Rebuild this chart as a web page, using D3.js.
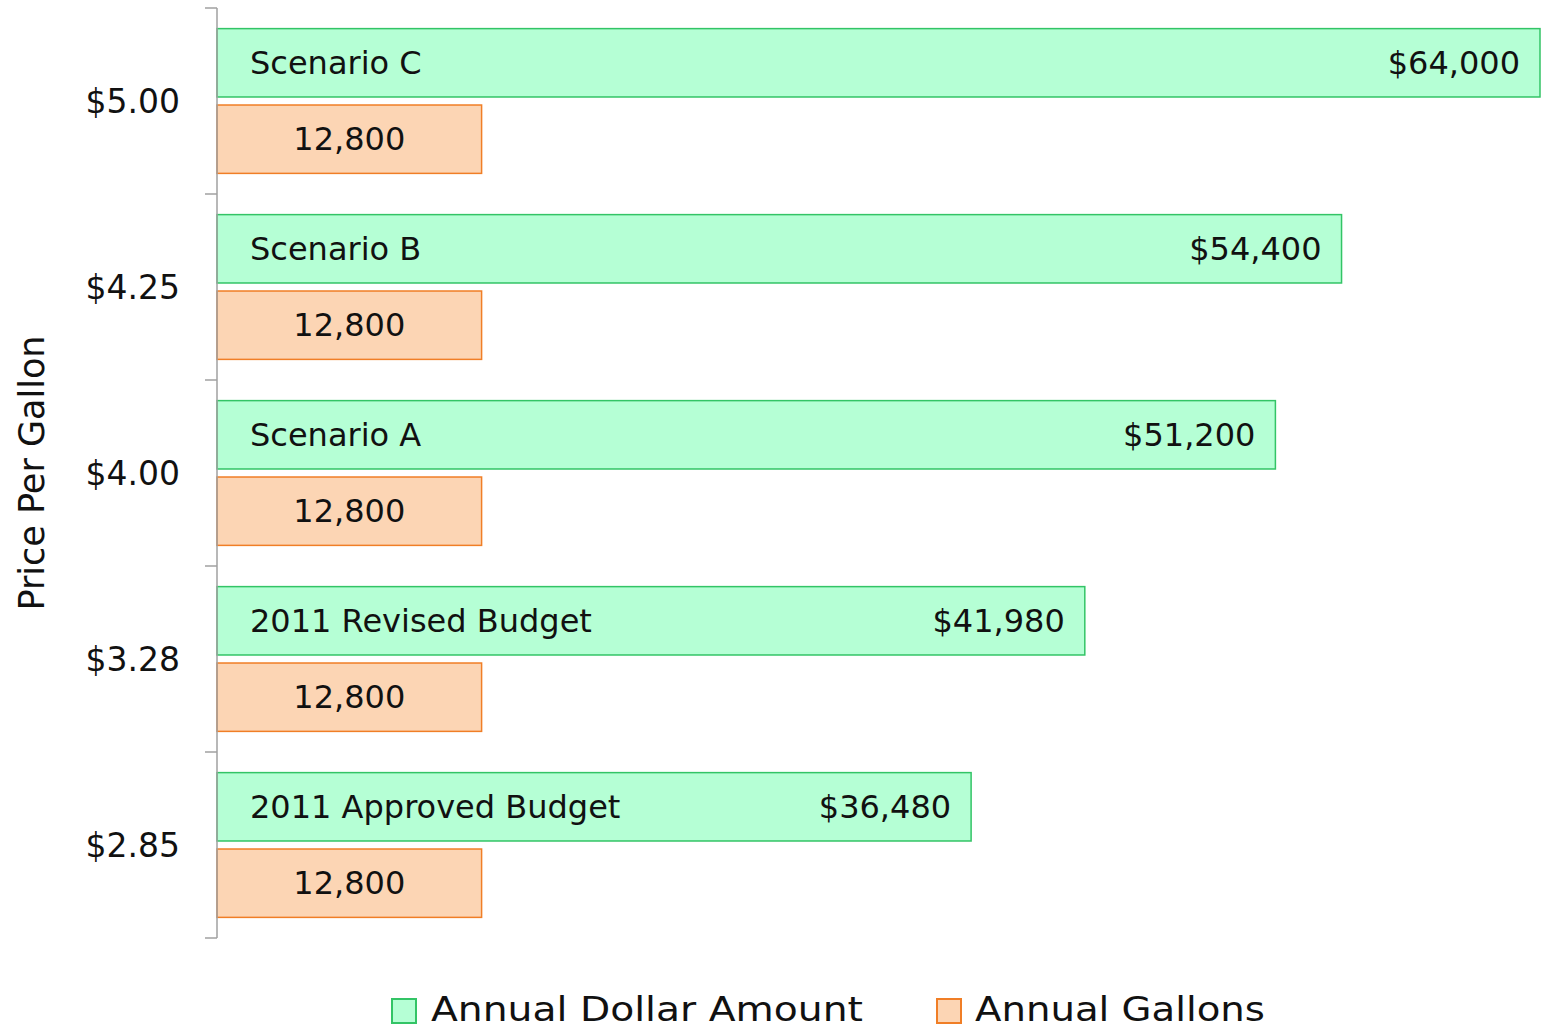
<!DOCTYPE html>
<html>
<head>
<meta charset="utf-8">
<script src="https://cdn.jsdelivr.net/npm/d3@7"></script>
<style>
  html, body { margin: 0; padding: 0; background: #fff; }
  svg { display: block; }
  text { font-family: "DejaVu Sans", sans-serif; fill: #111; }
</style>
</head>
<body>
<svg id="chart" width="1542" height="1031"></svg>
<script>
const categories = ["$5.00", "$4.25", "$4.00", "$3.28", "$2.85"];
const scenarios = ["Scenario C", "Scenario B", "Scenario A", "2011 Revised Budget", "2011 Approved Budget"];
const dollarAmounts = [64000, 54400, 51200, 41980, 36480];
const annualGallons = [12800, 12800, 12800, 12800, 12800];
const seriesNames = ["Annual Dollar Amount", "Annual Gallons"];

const svg = d3.select("#chart");
const x0 = 217, x1 = 1540, yTop = 8, yBot = 938;

const x = d3.scaleLinear().domain([0, 64000]).range([x0, x1]);
const y = d3.scaleBand().domain(categories).range([yTop, yBot]).padding(0);
const inner = d3.scaleBand().domain(["dollar", "gallons"]).range([0, y.bandwidth()])
  .paddingInner(0.105).paddingOuter(0.27);

const data = categories.map((c, i) => ({
  cat: c, name: scenarios[i], dollar: dollarAmounts[i], gallons: annualGallons[i]
}));

const green = { fill: "#b5ffd5", stroke: "#33c466" };
const orange = { fill: "#fcd5b4", stroke: "#f07e26" };

// bars
const g = svg.append("g");
g.selectAll("rect.dollar").data(data).enter().append("rect")
  .attr("x", x(0))
  .attr("y", d => y(d.cat) + inner("dollar"))
  .attr("width", d => x(d.dollar) - x(0))
  .attr("height", inner.bandwidth())
  .attr("fill", green.fill).attr("stroke", green.stroke).attr("stroke-width", 1.5);

g.selectAll("rect.gal").data(data).enter().append("rect")
  .attr("x", x(0))
  .attr("y", d => y(d.cat) + inner("gallons"))
  .attr("width", d => x(d.gallons) - x(0))
  .attr("height", inner.bandwidth())
  .attr("fill", orange.fill).attr("stroke", orange.stroke).attr("stroke-width", 1.5);

// labels
g.selectAll("text.name").data(data).enter().append("text")
  .attr("x", x(0) + 33)
  .attr("y", d => y(d.cat) + inner("dollar") + inner.bandwidth() / 2)
  .attr("dy", "0.35em")
  .attr("font-size", 32)
  .text(d => d.name);

g.selectAll("text.val").data(data).enter().append("text")
  .attr("x", d => x(d.dollar) - 20)
  .attr("y", d => y(d.cat) + inner("dollar") + inner.bandwidth() / 2)
  .attr("dy", "0.35em")
  .attr("text-anchor", "end")
  .attr("font-size", 32)
  .text(d => "$" + d3.format(",")(d.dollar));

g.selectAll("text.gal").data(data).enter().append("text")
  .attr("x", d => (x(0) + x(d.gallons)) / 2)
  .attr("y", d => y(d.cat) + inner("gallons") + inner.bandwidth() / 2)
  .attr("dy", "0.35em")
  .attr("text-anchor", "middle")
  .attr("font-size", 32)
  .text(d => d3.format(",")(d.gallons));

// axis
const axisG = svg.append("g");
axisG.append("line")
  .attr("x1", x0).attr("x2", x0).attr("y1", yTop).attr("y2", yBot)
  .attr("stroke", "#a0a0a0").attr("stroke-width", 1.5);
const boundaries = categories.map(c => y(c)).concat([yBot]);
axisG.selectAll("line.tick").data(boundaries).enter().append("line")
  .attr("x1", x0 - 12).attr("x2", x0).attr("y1", d => d).attr("y2", d => d)
  .attr("stroke", "#a0a0a0").attr("stroke-width", 1.5);
axisG.selectAll("text.tick").data(categories).enter().append("text")
  .attr("x", 180)
  .attr("y", d => y(d) + y.bandwidth() / 2)
  .attr("dy", "0.35em")
  .attr("text-anchor", "end")
  .attr("font-size", 33)
  .text(d => d);

svg.append("text")
  .attr("transform", `translate(44, ${(yTop + yBot) / 2}) rotate(-90)`)
  .attr("text-anchor", "middle")
  .attr("font-size", 35)
  .text("Price Per Gallon");

// legend
const legend = [
  { name: seriesNames[0], c: green, x: 392, tx: 431, len: 432 },
  { name: seriesNames[1], c: orange, x: 937, tx: 975, len: 290 }
];
const lg = svg.append("g");
lg.selectAll("rect").data(legend).enter().append("rect")
  .attr("x", d => d.x).attr("y", 999).attr("width", 24).attr("height", 24)
  .attr("fill", d => d.c.fill).attr("stroke", d => d.c.stroke).attr("stroke-width", 2);
lg.selectAll("text").data(legend).enter().append("text")
  .attr("x", d => d.tx).attr("y", 1021)
  .attr("font-size", 33)
  .attr("textLength", d => d.len)
  .attr("lengthAdjust", "spacingAndGlyphs")
  .text(d => d.name);
</script>
</body>
</html>
